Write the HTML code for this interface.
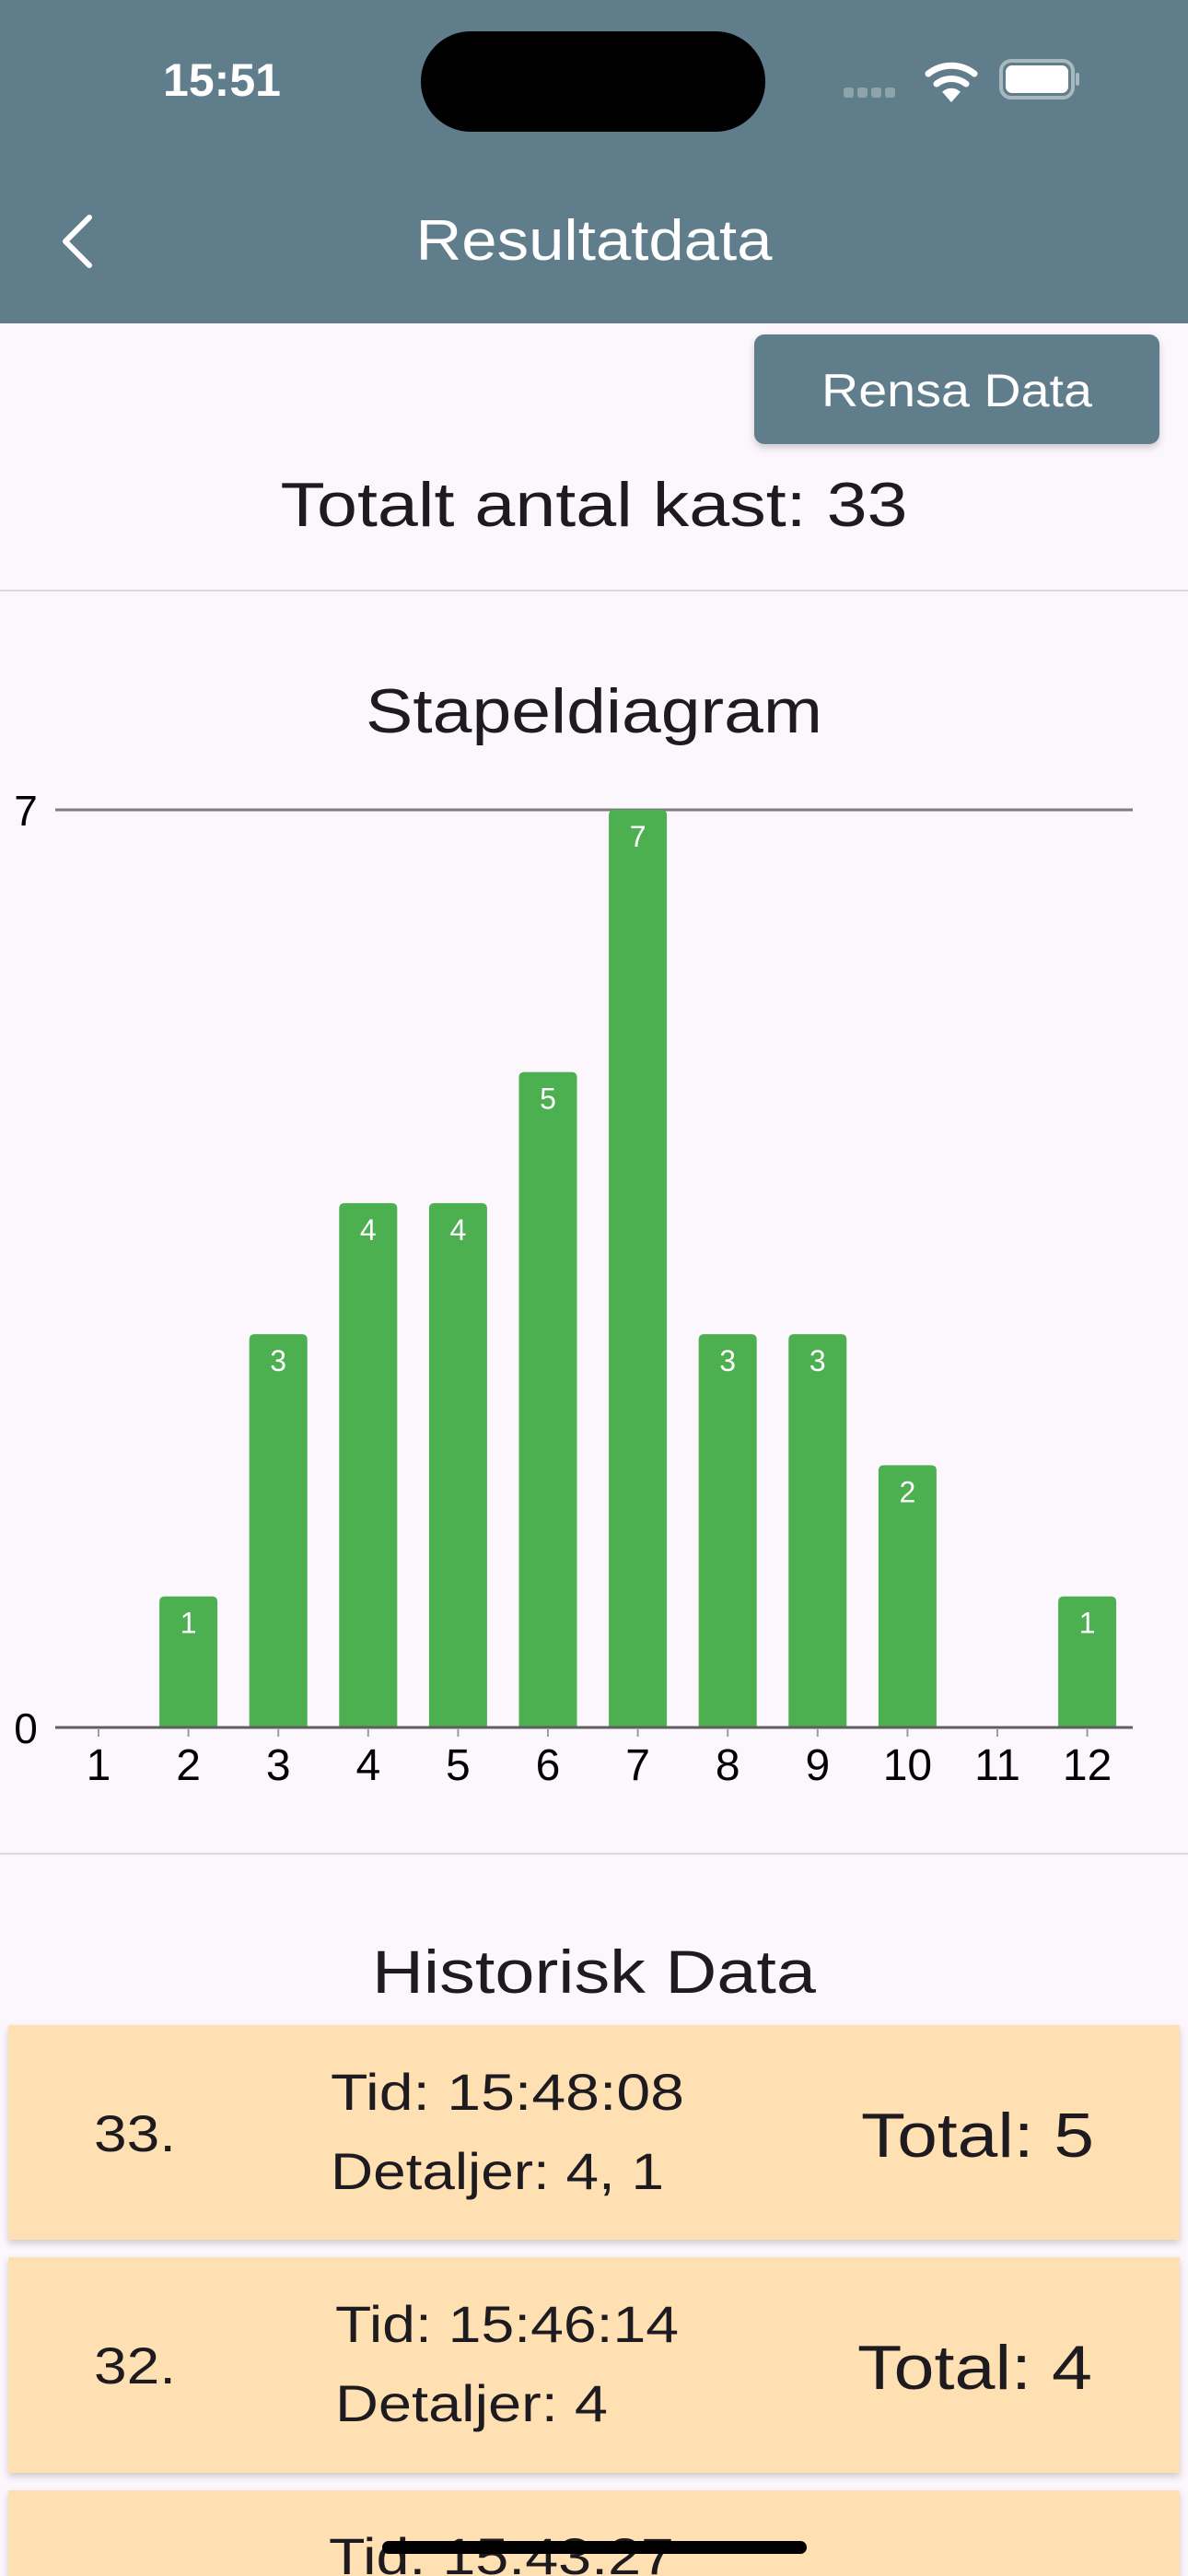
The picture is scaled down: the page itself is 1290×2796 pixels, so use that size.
<!DOCTYPE html>
<html><head><meta charset="utf-8">
<style>
html,body{margin:0;padding:0;background:#fcf6fd;}
body{width:1290px;height:2796px;overflow:hidden;position:relative;font-family:"Liberation Sans",sans-serif;}
svg{display:block}
</style></head>
<body>
<svg id="page" width="1290" height="2796" viewBox="0 0 1290 2796" xmlns="http://www.w3.org/2000/svg">
  <defs>
    <filter id="sh" x="-5%" y="-10%" width="110%" height="130%">
      <feDropShadow dx="0" dy="4" stdDeviation="4" flood-color="#000" flood-opacity="0.18"/>
    </filter>
  </defs>
  <rect width="1290" height="2796" fill="#fcf6fd"/>
  <rect x="0" y="0" width="1290" height="351" fill="#607d8b"/>
  <text x="241" y="104" font-size="50" font-weight="bold" fill="#fff" text-anchor="middle">15:51</text>
  <rect x="457" y="34" width="374" height="109" rx="54" fill="#000"/>
  <g fill="#8fa3ad">
    <rect x="916" y="95" width="11" height="11" rx="3"/><rect x="931" y="95" width="11" height="11" rx="3"/>
    <rect x="946" y="95" width="11" height="11" rx="3"/><rect x="961" y="95" width="11" height="11" rx="3"/>
  </g>
  <g fill="none" stroke="#fff" stroke-width="7" stroke-linecap="round">
    <path d="M1008 80 a40 40 0 0 1 50 0"/><path d="M1017 91 a26 26 0 0 1 32 0"/>
    <path d="M1033 108 l-7 -8 a12 12 0 0 1 14 0 z" fill="#fff" stroke-width="4"/>
  </g>
  <g>
    <rect x="1087" y="66" width="78" height="40" rx="11" fill="none" stroke="#a9b8bf" stroke-width="4"/>
    <rect x="1092" y="71" width="68" height="30" rx="7" fill="#fff"/>
    <rect x="1168" y="79" width="4" height="14" rx="2" fill="#a9b8bf"/>
  </g>
  <path d="M97 236 L71 262 L97 288" fill="none" stroke="#fff" stroke-width="6" stroke-linecap="round" stroke-linejoin="round"/>
  <text x="645" y="282" font-size="62" fill="#fff" text-anchor="middle" textLength="387" lengthAdjust="spacingAndGlyphs">Resultatdata</text>

  <g filter="url(#sh)">
    <rect x="819" y="363" width="440" height="119" rx="11" fill="#607d8b"/>
  </g>
  <text x="1039" y="441" font-size="50" fill="#fff" text-anchor="middle" textLength="294" lengthAdjust="spacingAndGlyphs">Rensa Data</text>
  <text x="645" y="571" font-size="68" fill="#1d1b20" text-anchor="middle" textLength="681" lengthAdjust="spacingAndGlyphs">Totalt antal kast: 33</text>
  <rect x="0" y="640" width="1290" height="2" fill="#dcd8e0"/>

  <text x="645" y="795" font-size="68" fill="#1d1b20" text-anchor="middle" textLength="496" lengthAdjust="spacingAndGlyphs">Stapeldiagram</text>
  <g id="chart"></g>

  <rect x="0" y="2011" width="1290" height="2" fill="#dcd8e0"/>
  <text x="645" y="2163" font-size="66" fill="#1d1b20" text-anchor="middle" textLength="482" lengthAdjust="spacingAndGlyphs">Historisk Data</text>

  <g>
    <rect x="9" y="2198" width="1272" height="233" fill="#ffe0b2" filter="url(#sh)"/>
    <text x="102" y="2335" font-size="56" fill="#1d1b20" textLength="89" lengthAdjust="spacingAndGlyphs">33.</text>
    <text x="359" y="2290" font-size="56" fill="#1d1b20" textLength="384" lengthAdjust="spacingAndGlyphs">Tid: 15:48:08</text>
    <text x="359" y="2376" font-size="56" fill="#1d1b20" textLength="362" lengthAdjust="spacingAndGlyphs">Detaljer: 4, 1</text>
    <text x="935" y="2341" font-size="68" fill="#1d1b20" textLength="253" lengthAdjust="spacingAndGlyphs">Total: 5</text>
  </g>
  <g>
    <rect x="9" y="2450" width="1272" height="234" fill="#ffe0b2" filter="url(#sh)"/>
    <text x="102" y="2587" font-size="56" fill="#1d1b20" textLength="89" lengthAdjust="spacingAndGlyphs">32.</text>
    <text x="364" y="2542" font-size="56" fill="#1d1b20" textLength="373" lengthAdjust="spacingAndGlyphs">Tid: 15:46:14</text>
    <text x="364" y="2628" font-size="56" fill="#1d1b20" textLength="296" lengthAdjust="spacingAndGlyphs">Detaljer: 4</text>
    <text x="931" y="2593" font-size="68" fill="#1d1b20" textLength="255" lengthAdjust="spacingAndGlyphs">Total: 4</text>
  </g>
  <g>
    <rect x="9" y="2703" width="1272" height="120" fill="#ffe0b2" filter="url(#sh)"/>
    <text x="357" y="2794" font-size="56" fill="#1d1b20" textLength="375" lengthAdjust="spacingAndGlyphs">Tid: 15:43:27</text>
  </g>
  <rect x="415" y="2758" width="461" height="14" rx="7" fill="#000"/>
</svg>
<script>
const categories = ["1","2","3","4","5","6","7","8","9","10","11","12"];
const counts = [0,1,3,4,4,5,7,3,3,2,0,1];
const yTicks = [0,7];

const NS = "http://www.w3.org/2000/svg";
const g = document.getElementById("chart");
const plotL = 60, plotR = 1230, plotTop = 879, plotBot = 1875;
const yMax = 7;
const firstC = 107, step = 97.6, barW = 63;
function xC(i){ return firstC + i*step; }
function yS(v){ return plotBot - (v / yMax) * (plotBot - plotTop); }
function mk(tag, attrs){ const e = document.createElementNS(NS, tag); for (const k in attrs) e.setAttribute(k, attrs[k]); g.appendChild(e); return e; }

const gl = mk("line",{x1:plotL,x2:plotR,y1:yS(yMax),y2:yS(yMax),stroke:"#7d7d7d","stroke-width":3});



yTicks.forEach(t=>{
  const tx = mk("text",{x:28,y:yS(t)+17,"font-size":46,"text-anchor":"middle",fill:"#000"});
  tx.textContent = t;
  
  
});

counts.forEach((v,i)=>{
  if (v > 0) {
    const x = xC(i) - barW/2, y = yS(v), r = 6;
    const p = mk("path",{d:`M${x} ${plotBot} L${x} ${y+r} Q${x} ${y} ${x+r} ${y} L${x+barW-r} ${y} Q${x+barW} ${y} ${x+barW} ${y+r} L${x+barW} ${plotBot} Z`,fill:"#4caf50"});
    
    
    const lb = mk("text",{x:xC(i),y:y+40,"font-size":32,"text-anchor":"middle",fill:"#fff"});
    lb.textContent = v;
    
    
  }
});

const bl = mk("line",{x1:plotL,x2:plotR,y1:plotBot,y2:plotBot,stroke:"#5f5f5f","stroke-width":3});



categories.forEach((c,i)=>{
  const tk = mk("line",{x1:xC(i),x2:xC(i),y1:plotBot+2,y2:plotBot+10,stroke:"#9e9e9e","stroke-width":2});
  
  
  const t = mk("text",{x:xC(i),y:1932,"font-size":48,"text-anchor":"middle",fill:"#000"});
  t.textContent = c;
  
  
});
</script>
</body></html>
